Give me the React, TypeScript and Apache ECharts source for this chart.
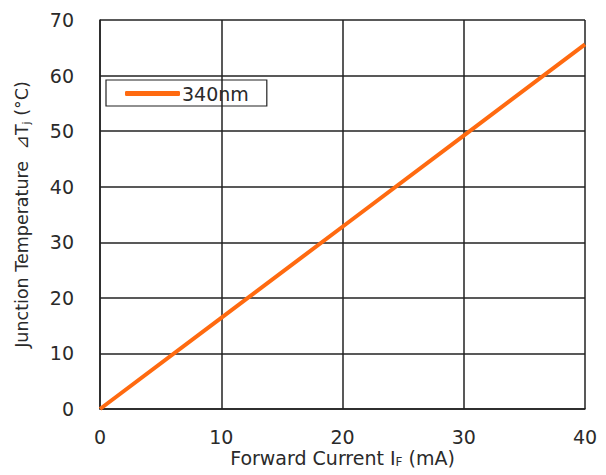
import React, { useEffect, useRef } from "react";
import * as echarts from "echarts";

const currents = [0, 10, 20, 30, 40];
const temps340 = [0, 16.4, 32.8, 49.2, 65.6];
const seriesName = "340nm";

export default function App() {
  const ref = useRef<HTMLDivElement>(null);
  useEffect(() => {
    if (!ref.current) return;
    const chart = echarts.init(ref.current, undefined, { renderer: "svg" });
    const font = "DejaVu Sans";
    const txt = "#2a2a2a";
    chart.setOption({
      animation: false,
      textStyle: { fontFamily: font },
      grid: { left: 100, top: 20, right: 21, bottom: 66, outerBoundsMode: "none", containLabel: false },
      legend: {
        left: 106,
        top: 80,
        orient: "horizontal",
        borderColor: "#222",
        borderWidth: 1.2,
        borderRadius: 0,
        padding: [4, 18, 3, 19],
        itemWidth: 55,
        itemHeight: 5,
        itemGap: 4,
        icon: "roundRect",
        textStyle: { fontSize: 19, color: txt, fontFamily: font, padding: [0, 0, 0, -3] },
        data: [seriesName],
      },
      xAxis: {
        type: "value",
        min: 0,
        max: 40,
        interval: 10,
        name: "Forward Current I{sub|F} (mA)",
        nameLocation: "middle",
        nameMoveOverlap: false,
        nameGap: 39,
        nameTextStyle: {
          fontSize: 19,
          lineHeight: 20,
          color: txt,
          fontFamily: font,
          rich: {
            sub: { fontSize: 12, lineHeight: 20, color: txt, fontFamily: font, verticalAlign: "bottom" },
          },
        },
        axisLine: { show: true, lineStyle: { color: "#222", width: 1.5 } },
        axisTick: { show: false },
        splitLine: { show: true, lineStyle: { color: "#222", width: 1.5 } },
        axisLabel: { fontSize: 19, color: txt, margin: 18, fontFamily: font },
      },
      yAxis: {
        type: "value",
        min: 0,
        max: 70,
        interval: 10,
        name: "Junction Temperature  ⊿T{sub|j} (°C)",
        nameLocation: "middle",
        nameMoveOverlap: false,
        nameRotate: 90,
        nameGap: 68,
        nameTextStyle: {
          fontSize: 17.5,
          color: txt,
          fontFamily: font,
          rich: {
            sub: { fontSize: 11, color: txt, fontFamily: font, padding: [10, 0, 0, 0] },
          },
        },
        axisLine: { show: true, lineStyle: { color: "#222", width: 1.5 } },
        axisTick: { show: false },
        splitLine: { show: true, lineStyle: { color: "#222", width: 1.5 } },
        axisLabel: { fontSize: 19, color: txt, margin: 26, fontFamily: font },
      },
      series: [
        {
          name: seriesName,
          type: "line",
          data: currents.map((c, i) => [c, temps340[i]]),
          showSymbol: false,
          symbol: "none",
          color: "#ff6a10",
          lineStyle: { color: "#ff6a10", width: 4 },
        },
      ],
    });
    return () => chart.dispose();
  }, []);
  return <div ref={ref} style={{ width: 606, height: 475, position: "absolute", left: 0, top: 0 }} />;
}
